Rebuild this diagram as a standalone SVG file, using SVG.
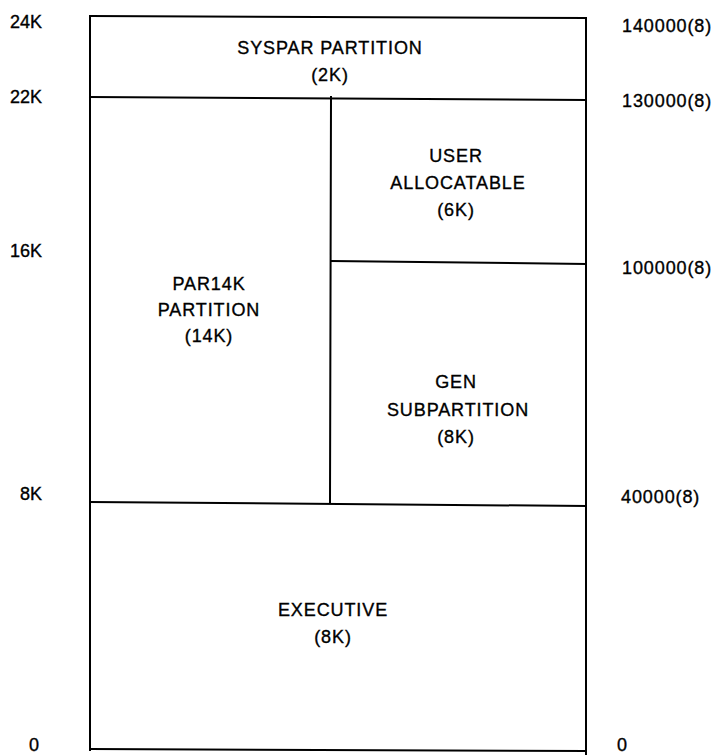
<svg xmlns="http://www.w3.org/2000/svg" width="716" height="755" viewBox="0 0 716 755">
<style>
.ln{stroke:#000;stroke-width:2;fill:none;stroke-linecap:square}
.t{font-family:"Liberation Sans",Arial,sans-serif;font-size:18px;fill:#000;stroke:#000;stroke-width:0.35}
.c{text-anchor:middle;letter-spacing:0.9px}
.s{letter-spacing:0.9px}
</style>
<rect width="716" height="755" fill="#fff"/>
<g id="connectors">
<line class="ln" x1="90" y1="16" x2="586" y2="18"/>
<line class="ln" x1="90" y1="16" x2="90" y2="750"/>
<line class="ln" x1="586" y1="18" x2="586" y2="755"/>
<line class="ln" x1="90" y1="749" x2="586" y2="751"/>
<line class="ln" x1="90" y1="97" x2="586" y2="100"/>
<line class="ln" x1="331" y1="97" x2="330" y2="503"/>
<line class="ln" x1="331" y1="261" x2="586" y2="264"/>
<line class="ln" x1="90" y1="502" x2="586" y2="506"/>
</g>
<g id="axis-left">
<text class="t" x="10" y="28">24K</text>
<text class="t" x="10" y="103">22K</text>
<text class="t" x="10" y="257">16K</text>
<text class="t" x="20" y="500">8K</text>
<text class="t" x="29" y="751">0</text>
</g>
<g id="axis-right">
<text class="t s" x="622" y="32">140000(8)</text>
<text class="t s" x="622" y="107">130000(8)</text>
<text class="t s" x="622" y="274">100000(8)</text>
<text class="t s" x="621" y="503">40000(8)</text>
<text class="t" x="617" y="751">0</text>
</g>
<g id="syspar">
<text class="t c" x="330" y="54">SYSPAR PARTITION</text>
<text class="t c" x="330" y="81">(2K)</text>
</g>
<g id="user">
<text class="t c" x="456" y="162">USER</text>
<text class="t c" x="458" y="189">ALLOCATABLE</text>
<text class="t c" x="456" y="216">(6K)</text>
</g>
<g id="par14k">
<text class="t c" x="209" y="290">PAR14K</text>
<text class="t c" x="209" y="316">PARTITION</text>
<text class="t c" x="209" y="342">(14K)</text>
</g>
<g id="gen">
<text class="t c" x="456" y="388">GEN</text>
<text class="t c" x="458" y="416">SUBPARTITION</text>
<text class="t c" x="456" y="443">(8K)</text>
</g>
<g id="executive">
<text class="t c" x="333" y="616">EXECUTIVE</text>
<text class="t c" x="333" y="643">(8K)</text>
</g>
</svg>
